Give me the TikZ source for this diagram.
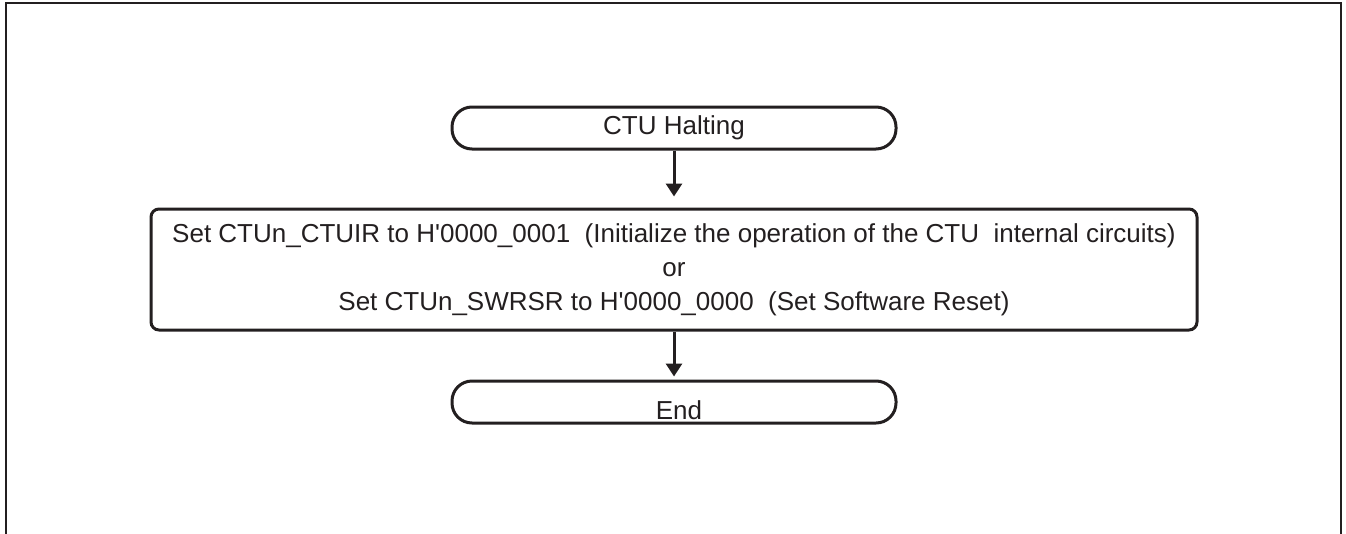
\documentclass[tikz,border=0pt]{standalone}
\usepackage{fontspec}
\newfontfamily\arial{Liberation Sans}
\usetikzlibrary{arrows.meta}
\definecolor{ink}{HTML}{231F20}
\tikzset{
  term/.style={draw=ink, line width=3pt, rounded corners=20pt, minimum width=444pt, minimum height=42pt, inner sep=0pt, font=\arial\fontsize{26}{34}\selectfont, text=ink},
  procbox/.style={draw=ink, line width=3pt, rounded corners=8pt, minimum width=1046pt, minimum height=121pt, inner sep=0pt, align=center, font=\arial\fontsize{26}{34}\selectfont, text=ink},
  flow/.style={draw=ink, line width=3pt, -{Triangle[length=13pt,width=16pt]}},
  frame/.style={draw=ink, line width=2.5pt}
}
\begin{document}
\begin{tikzpicture}[x=1pt,y=-1pt]
\useasboundingbox (0,0) rectangle (1346,533);
\draw[frame] (6,534) -- (6,3) -- (1341,3) -- (1341,534);
\node[term] (halt) at (674,128) {CTU Halting};
\node[procbox] (proc) at (674,269.5) {Set CTUn\_CTUIR to H'0000\_0001\ \ (Initialize the operation of the CTU\ \ internal circuits)\\or\\Set CTUn\_SWRSR to H'0000\_0000\ \ (Set Software Reset)};
\node[term] (end) at (674,402) {\hspace*{10pt}\smash{\raisebox{-17pt}{End}}};
\draw[flow, shorten >=11pt] (halt) -- (proc);
\draw[flow, shorten >=3pt] (proc) -- (end);
\end{tikzpicture}
\end{document}
